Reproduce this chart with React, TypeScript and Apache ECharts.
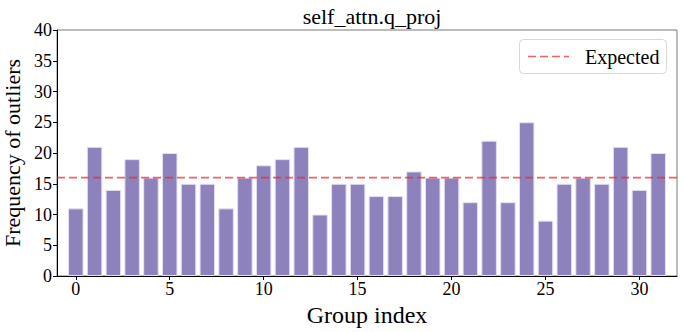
import React, { useEffect, useRef } from "react";
import * as echarts from "echarts";

const title = "self_attn.q_proj";
const legendLabel = "Expected";
const groups: number[] = Array.from({ length: 32 }, (_, i) => i);
const frequencies: number[] = [
  11, 21, 14, 19, 16, 20, 15, 15, 11, 16, 18, 19, 21, 10, 15, 15,
  13, 13, 17, 16, 16, 12, 22, 12, 25, 9, 15, 16, 15, 21, 14, 20,
];
const expectedValue = 16;
const xTicks: number[] = [0, 5, 10, 15, 20, 25, 30];
const xRange: [number, number] = [-1, 32];

const FONT = "Liberation Serif";
const RED = "rgba(232,45,45,0.75)";

export default function App() {
  const ref = useRef<HTMLDivElement>(null);
  useEffect(() => {
    if (!ref.current) return;
    const chart = echarts.init(ref.current, null, { renderer: "svg" });
    chart.setOption({
      animation: false,
      backgroundColor: "#ffffff",
      textStyle: { fontFamily: FONT },
      title: {
        text: title,
        left: 367,
        top: 0,
        textAlign: "center",
        textStyle: { fontFamily: FONT, fontSize: 22, fontWeight: "normal", color: "#000" },
      },
      graphic: [
        {
          type: "rect",
          shape: { x: 519.5, y: 39.5, width: 147, height: 34, r: 4 },
          style: { fill: "#ffffff", stroke: "#d8d8d8", lineWidth: 1 },
          z: 100,
        },
        {
          type: "line",
          shape: { x1: 528, y1: 56.5, x2: 569, y2: 56.5 },
          style: { stroke: RED, lineWidth: 1.6, lineDash: [8, 4] },
          z: 101,
        },
        {
          type: "text",
          x: 585,
          y: 56.5,
          style: {
            text: legendLabel,
            fontFamily: FONT,
            fontSize: 20,
            fill: "#000",
            verticalAlign: "middle",
            align: "left",
          },
          z: 101,
        },
      ],
      grid: {
        left: 57,
        right: 8,
        top: 30,
        bottom: 56,
        containLabel: false,
        outerBoundsMode: "none",
        show: true,
        borderColor: "#7a7a7a",
        borderWidth: 1,
        backgroundColor: "transparent",
      },
      xAxis: {
        type: "value",
        min: xRange[0],
        max: xRange[1],
        name: "Group index",
        nameLocation: "middle",
        nameGap: 12,
        nameTextStyle: { fontFamily: FONT, fontSize: 24, color: "#000" },
        splitLine: { show: false },
        axisLine: { show: true, onZero: false, lineStyle: { color: "#000", width: 1 } },
        axisTick: { show: true, length: 4, lineStyle: { color: "#000" }, customValues: xTicks },
        axisLabel: {
          fontFamily: FONT,
          fontSize: 18,
          color: "#000",
          margin: 4,
          customValues: xTicks,
        },
      },
      yAxis: {
        type: "value",
        min: 0,
        max: 40,
        interval: 5,
        name: "Frequency of outliers",
        nameLocation: "middle",
        nameGap: 30,
        nameTextStyle: { fontFamily: FONT, fontSize: 22, color: "#000" },
        splitLine: { show: false },
        axisLine: { show: true, onZero: false, lineStyle: { color: "#000", width: 1 } },
        axisTick: { show: true, length: 4, lineStyle: { color: "#000" } },
        axisLabel: { fontFamily: FONT, fontSize: 18, color: "#000", margin: 5 },
      },
      series: [
        {
          type: "bar",
          name: "Outliers",
          data: groups.map((g, i) => [g, frequencies[i]]),
          barWidth: 15.5,
          itemStyle: { color: "#8e82bd", borderColor: "#e4e0f1", borderWidth: 1 },
          z: 2,
        },
        {
          type: "line",
          name: legendLabel,
          data: [
            [xRange[0], expectedValue],
            [xRange[1], expectedValue],
          ],
          symbol: "none",
          lineStyle: { color: RED, width: 1.6, type: [8, 4] },
          itemStyle: { color: RED },
          z: 3,
        },
      ],
    });
    return () => chart.dispose();
  }, []);
  return (
    <div
      ref={ref}
      style={{ position: "fixed", left: 0, top: 0, width: 685, height: 332 }}
    />
  );
}
